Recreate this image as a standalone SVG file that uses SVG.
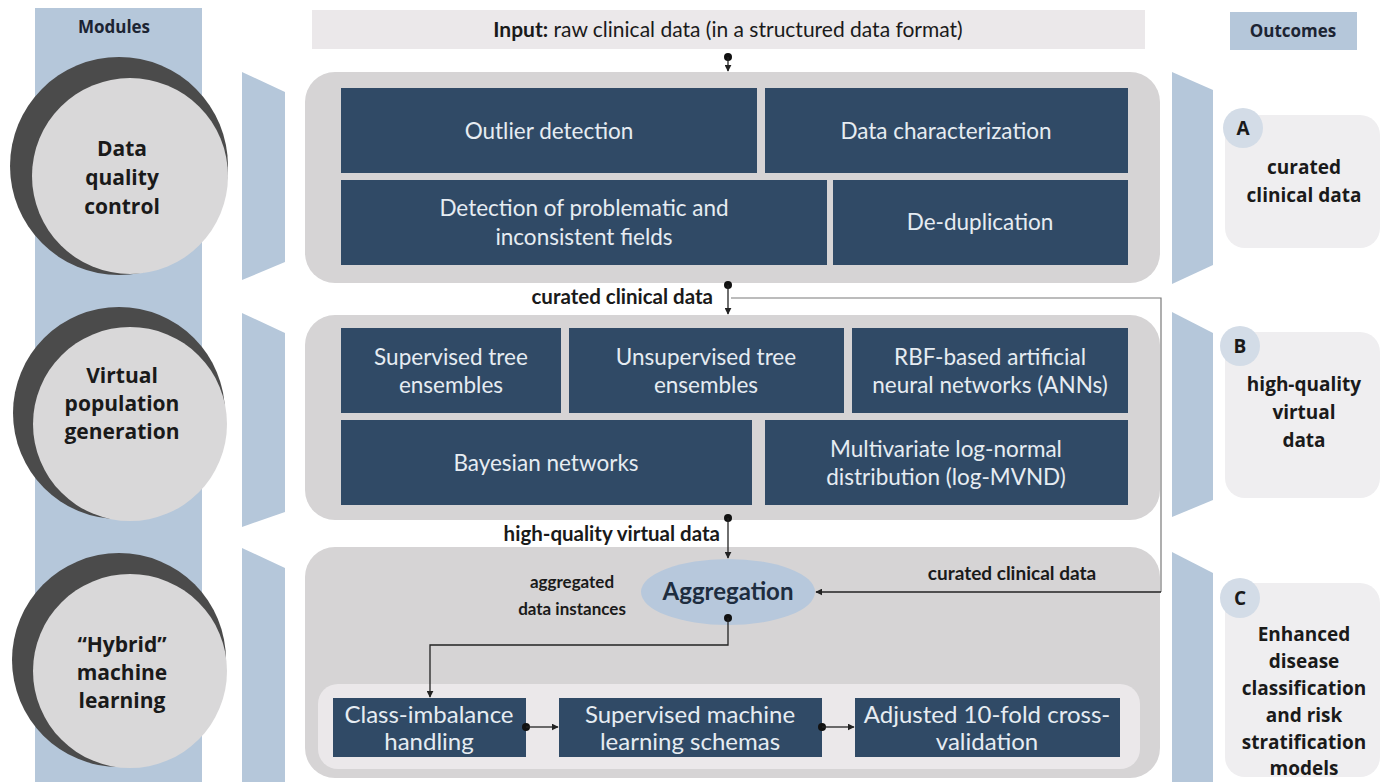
<svg xmlns="http://www.w3.org/2000/svg" width="1385" height="782" viewBox="0 0 1385 782">
<defs>
<style>
.col{fill:#b5c7da}
.dark{fill:#4b4b4b}
.lite{fill:#d9d8d9}
.ctn{fill:#d6d4d5}
.box{fill:#304a66}
.card{fill:#efeef0}
.badge{fill:#d3dce7}
.bt{font-family:Lato,"Open Sans",sans-serif;font-size:22.5px;fill:#e6ecf2;text-anchor:middle}
.bt2{font-family:Lato,"Open Sans",sans-serif;font-size:24px;fill:#e6ecf2;text-anchor:middle}
.ct{font-family:"Open Sans",sans-serif;font-weight:bold;font-size:21px;fill:#1a1a1a;text-anchor:middle}
.ot{font-family:"Open Sans",sans-serif;font-weight:bold;font-size:19px;fill:#1a1a1a;text-anchor:middle}
.lb{font-family:Lato,"Open Sans",sans-serif;font-weight:bold;font-size:17px;fill:#1a1a1a}
.lbl{font-family:Lato,"Open Sans",sans-serif;font-weight:bold;font-size:20.5px;fill:#1a1a1a}
.hd{font-family:"Open Sans",sans-serif;font-weight:bold;font-size:17px;fill:#1c2433;text-anchor:middle}
.ln{fill:none;stroke:#222;stroke-width:1.3}
.fb{fill:none;stroke:#7a7a7a;stroke-width:1.2}
</style>
<marker id="ah" viewBox="0 0 10 10" refX="9" refY="5" markerWidth="7" markerHeight="7" orient="auto-start-reverse" markerUnits="userSpaceOnUse"><path d="M0,0 L10,5 L0,10 z" fill="#222"/></marker>
</defs>

<!-- Modules column -->
<g id="modules-column">
<rect class="col" x="35" y="8" width="167" height="774"/>
<text class="hd" x="114" y="33">Modules</text>
</g>

<g id="module-dq">
<circle class="dark" cx="119" cy="166" r="109"/>
<circle class="lite" cx="130" cy="176" r="98"/>
<text class="ct" x="122" y="156">Data</text>
<text class="ct" x="122" y="185">quality</text>
<text class="ct" x="122" y="214">control</text>
</g>
<g id="module-vp">
<circle class="dark" cx="119" cy="413" r="106"/>
<circle class="lite" cx="130" cy="424" r="97"/>
<text class="ct" x="122" y="383">Virtual</text>
<text class="ct" x="122" y="411">population</text>
<text class="ct" x="122" y="439">generation</text>
</g>
<g id="module-ml">
<circle class="dark" cx="119" cy="660" r="107"/>
<circle class="lite" cx="130" cy="671" r="97"/>
<text class="ct" x="122" y="652">“Hybrid”</text>
<text class="ct" x="122" y="680">machine</text>
<text class="ct" x="122" y="708">learning</text>
</g>

<!-- left panels -->
<g id="left-panels">
<polygon class="col" points="242,72 285,92 285,262 242,280"/>
<polygon class="col" points="242,313 285,333 285,512 242,527"/>
<polygon class="col" points="242,548 285,568 285,782 242,782"/>
</g>
<!-- right panels -->
<g id="right-panels">
<polygon class="col" points="1172,72 1213,90 1213,265 1172,284"/>
<polygon class="col" points="1172,312 1213,333 1213,500 1172,517"/>
<polygon class="col" points="1172,552 1213,573 1213,782 1172,782"/>
</g>

<!-- Input -->
<g id="input">
<rect x="312" y="10" width="833" height="39" fill="#ebe8ea"/>
<text x="728" y="37" font-family="Lato,'Open Sans',sans-serif" font-size="21" fill="#1a1a1a" text-anchor="middle"><tspan font-weight="bold">Input:</tspan> raw clinical data (in a structured data format)</text>
</g>

<!-- Container 1 -->
<g id="data-quality-control">
<rect class="ctn" x="305" y="72" width="855" height="211" rx="30"/>
<rect class="box" x="341" y="88" width="416" height="85"/>
<rect class="box" x="765" y="88" width="363" height="85"/>
<rect class="box" x="341" y="180" width="486" height="85"/>
<rect class="box" x="833" y="180" width="295" height="85"/>
<text class="bt" x="549" y="139">Outlier detection</text>
<text class="bt" x="946" y="139">Data characterization</text>
<text class="bt" x="584" y="216">Detection of problematic and</text>
<text class="bt" x="584" y="245">inconsistent fields</text>
<text class="bt" x="980" y="230">De-duplication</text>
</g>

<!-- Container 2 -->
<g id="virtual-population-generation">
<rect class="ctn" x="305" y="315" width="855" height="205" rx="30"/>
<rect class="box" x="341" y="328" width="220" height="85"/>
<rect class="box" x="569" y="328" width="275" height="85"/>
<rect class="box" x="852" y="328" width="276" height="85"/>
<rect class="box" x="341" y="420" width="411" height="85"/>
<rect class="box" x="765" y="420" width="363" height="85"/>
<text class="bt" x="451" y="365">Supervised tree</text>
<text class="bt" x="451" y="393">ensembles</text>
<text class="bt" x="706" y="365">Unsupervised tree</text>
<text class="bt" x="706" y="393">ensembles</text>
<text class="bt" x="990" y="365">RBF-based artificial</text>
<text class="bt" x="990" y="393">neural networks (ANNs)</text>
<text class="bt" x="546" y="471">Bayesian networks</text>
<text class="bt" x="946" y="457">Multivariate log-normal</text>
<text class="bt" x="946" y="485">distribution (log-MVND)</text>
</g>

<!-- Container 3 -->
<g id="hybrid-ml">
<rect class="ctn" x="305" y="547" width="855" height="231" rx="30"/>
<rect x="318" y="684" width="822" height="85" rx="20" fill="#ebe8ea"/>
<rect class="box" x="333" y="698" width="193" height="59"/>
<rect class="box" x="559" y="698" width="263" height="59"/>
<rect class="box" x="855" y="698" width="265" height="59"/>
<text class="bt2" x="429" y="723">Class-imbalance</text>
<text class="bt2" x="429" y="750">handling</text>
<text class="bt2" x="690" y="723">Supervised machine</text>
<text class="bt2" x="690" y="750">learning schemas</text>
<text class="bt2" x="987" y="723">Adjusted 10-fold cross-</text>
<text class="bt2" x="987" y="750">validation</text>
</g>
<g id="aggregation">
<ellipse cx="728" cy="592" rx="87" ry="33" fill="#b7c8dc"/>
<text x="728" y="600" font-family="Lato,'Open Sans',sans-serif" font-weight="bold" font-size="24" fill="#1e2d40" text-anchor="middle">Aggregation</text>
</g>

<!-- Outcomes -->
<g id="outcomes-header">
<rect class="col" x="1230" y="12" width="127" height="38"/>
<text class="hd" x="1293" y="37">Outcomes</text>
</g>
<g id="outcome-a">
<rect class="card" x="1225" y="115" width="155" height="133" rx="20"/>
<circle class="badge" cx="1243" cy="128" r="20"/>
<text class="ot" x="1243" y="135">A</text>
<text class="ot" x="1304" y="174">curated</text>
<text class="ot" x="1304" y="202">clinical data</text>
</g>
<g id="outcome-b">
<rect class="card" x="1225" y="332" width="155" height="166" rx="20"/>
<circle class="badge" cx="1240" cy="346" r="20"/>
<text class="ot" x="1240" y="353">B</text>
<text class="ot" x="1304" y="391">high-quality</text>
<text class="ot" x="1304" y="419">virtual</text>
<text class="ot" x="1304" y="447">data</text>
</g>
<g id="outcome-c">
<rect class="card" x="1225" y="583" width="155" height="194" rx="20"/>
<circle class="badge" cx="1240" cy="598" r="20"/>
<text class="ot" x="1240" y="605">C</text>
<text class="ot" x="1304" y="641">Enhanced</text>
<text class="ot" x="1304" y="668">disease</text>
<text class="ot" x="1304" y="695">classification</text>
<text class="ot" x="1304" y="722">and risk</text>
<text class="ot" x="1304" y="749">stratification</text>
<text class="ot" x="1304" y="775">models</text>
</g>

<!-- Connectors -->
<g id="connectors">
<circle cx="728" cy="57" r="4" fill="#111"/>
<line class="ln" x1="728" y1="57" x2="728" y2="71" marker-end="url(#ah)"/>

<circle cx="728" cy="285" r="4" fill="#111"/>
<line class="ln" x1="728" y1="285" x2="728" y2="314" marker-end="url(#ah)"/>
<polyline class="fb" points="731,298 1161,298 1161,592"/>
<line class="ln" x1="1161" y1="592" x2="816" y2="592" stroke="#555" marker-end="url(#ah)"/>

<circle cx="728" cy="518" r="4" fill="#111"/>
<line class="ln" x1="728" y1="518" x2="728" y2="558" marker-end="url(#ah)"/>

<circle cx="728" cy="618" r="4" fill="#111"/>
<polyline class="ln" points="728,618 728,645 430,645 430,697" marker-end="url(#ah)"/>

<circle cx="526" cy="727" r="4" fill="#111"/>
<line class="ln" x1="526" y1="727" x2="558" y2="727" marker-end="url(#ah)"/>
<circle cx="822" cy="727" r="4" fill="#111"/>
<line class="ln" x1="822" y1="727" x2="854" y2="727" marker-end="url(#ah)"/>

<text class="lbl" x="713" y="304" text-anchor="end">curated clinical data</text>
<text class="lbl" x="720" y="541" text-anchor="end">high-quality virtual data</text>
<text class="lb" x="572" y="588" text-anchor="middle">aggregated</text>
<text class="lb" x="572" y="615" text-anchor="middle">data instances</text>
<text class="lbl" x="1012" y="580" text-anchor="middle" style="font-size:19px">curated clinical data</text>
</g>
</svg>
